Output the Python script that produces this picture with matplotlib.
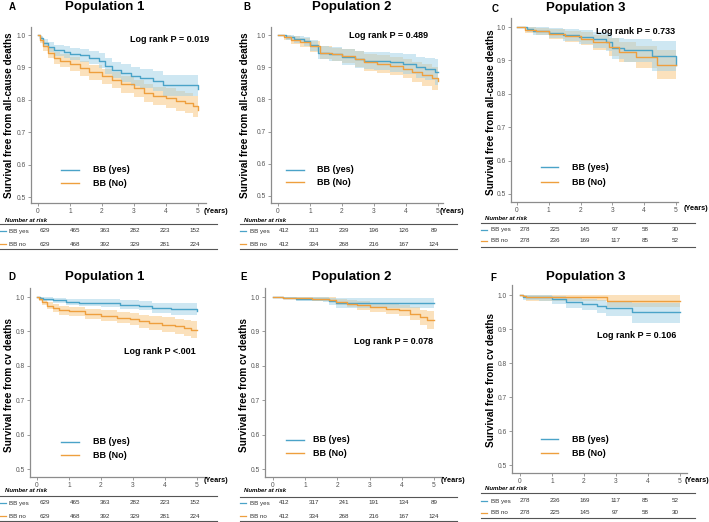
import matplotlib
matplotlib.use("Agg")
import matplotlib.pyplot as plt
from matplotlib.lines import Line2D

plt.rcParams['font.family'] = ['Liberation Sans', 'DejaVu Sans']

# ---- data: Kaplan-Meier estimates ----
# Panel A: population 1, all-cause deaths
a_yes_t = [0, 0.05, 0.15, 0.3, 0.5, 0.8, 1.0, 1.3, 1.6, 1.9, 2.1, 2.3, 2.6, 2.9, 3.2, 3.6, 3.9, 4.95, 5.0]
a_yes_s = [1.0, 0.99, 0.975, 0.962, 0.953, 0.947, 0.942, 0.937, 0.93, 0.92, 0.905, 0.893, 0.882, 0.872, 0.866, 0.858, 0.845, 0.845, 0.832]
a_yes_hi = [1.0, 0.998, 0.988, 0.978, 0.970, 0.965, 0.961, 0.957, 0.951, 0.943, 0.929, 0.918, 0.909, 0.900, 0.895, 0.888, 0.877, 0.877, 0.868]
a_yes_lo = [1.0, 0.982, 0.962, 0.946, 0.936, 0.929, 0.923, 0.917, 0.909, 0.897, 0.881, 0.868, 0.855, 0.844, 0.837, 0.828, 0.813, 0.813, 0.796]
a_no_t = [0, 0.05, 0.15, 0.3, 0.5, 0.7, 1.0, 1.3, 1.6, 2.0, 2.3, 2.6, 3.0, 3.3, 3.6, 4.0, 4.3, 4.6, 4.85, 5.0]
a_no_s = [1.0, 0.985, 0.965, 0.945, 0.93, 0.92, 0.91, 0.897, 0.885, 0.872, 0.86, 0.848, 0.835, 0.822, 0.812, 0.805, 0.797, 0.79, 0.78, 0.768]
a_no_hi = [1.0, 0.994, 0.979, 0.962, 0.949, 0.940, 0.931, 0.919, 0.908, 0.896, 0.885, 0.874, 0.862, 0.850, 0.841, 0.835, 0.828, 0.822, 0.813, 0.803]
a_no_lo = [1.0, 0.976, 0.951, 0.928, 0.911, 0.900, 0.889, 0.875, 0.862, 0.848, 0.835, 0.822, 0.808, 0.794, 0.783, 0.775, 0.766, 0.758, 0.747, 0.733]

# Panel B: population 2, all-cause deaths
b_yes_t = [0, 0.25, 0.5, 0.8, 1.0, 1.25, 1.6, 2.0, 2.4, 2.7, 3.0, 3.5, 3.9, 4.3, 4.6, 4.9, 5.0]
b_yes_s = [1.0, 0.993, 0.987, 0.98, 0.968, 0.945, 0.94, 0.932, 0.925, 0.92, 0.918, 0.915, 0.91, 0.9, 0.895, 0.885, 0.885]
b_yes_hi = [1.0, 1.0, 0.998, 0.993, 0.985, 0.966, 0.962, 0.956, 0.951, 0.947, 0.946, 0.944, 0.941, 0.933, 0.93, 0.925, 0.925]
b_yes_lo = [1.0, 0.985, 0.976, 0.967, 0.951, 0.924, 0.918, 0.908, 0.899, 0.893, 0.89, 0.886, 0.879, 0.867, 0.86, 0.845, 0.845]
b_no_t = [0, 0.2, 0.4, 0.7, 1.0, 1.3, 1.7, 2.0, 2.4, 2.7, 3.1, 3.5, 3.9, 4.2, 4.5, 4.8, 5.0]
b_no_s = [1.0, 0.993, 0.985, 0.978, 0.965, 0.945, 0.94, 0.935, 0.925, 0.915, 0.91, 0.905, 0.895, 0.885, 0.875, 0.865, 0.858]
b_no_hi = [1.0, 1.0, 0.997, 0.992, 0.982, 0.965, 0.961, 0.957, 0.949, 0.941, 0.937, 0.933, 0.925, 0.917, 0.909, 0.901, 0.897]
b_no_lo = [1.0, 0.985, 0.973, 0.964, 0.948, 0.925, 0.919, 0.913, 0.901, 0.889, 0.883, 0.877, 0.865, 0.853, 0.841, 0.829, 0.815]

# Panel C: population 3, all-cause deaths
c_yes_t = [0, 0.3, 0.5, 1.0, 1.45, 1.95, 2.4, 2.8, 3.0, 3.35, 4.23, 4.97, 5.0]
c_yes_s = [1.0, 0.993, 0.988, 0.982, 0.976, 0.97, 0.963, 0.955, 0.937, 0.93, 0.912, 0.912, 0.885]
c_yes_hi = [1.0, 1.0, 0.999, 0.996, 0.993, 0.99, 0.986, 0.981, 0.968, 0.964, 0.958, 0.958, 0.945]
c_yes_lo = [1.0, 0.984, 0.976, 0.967, 0.957, 0.948, 0.938, 0.927, 0.904, 0.894, 0.868, 0.868, 0.815]
c_no_t = [0, 0.25, 0.6, 1.0, 1.5, 2.0, 2.4, 2.9, 3.2, 3.75, 4.4, 5.0]
c_no_s = [1.0, 0.992, 0.987, 0.98, 0.972, 0.965, 0.955, 0.94, 0.925, 0.91, 0.886, 0.886]
c_no_hi = [1.0, 1.0, 0.998, 0.994, 0.989, 0.984, 0.977, 0.966, 0.954, 0.943, 0.93, 0.93]
c_no_lo = [1.0, 0.983, 0.975, 0.965, 0.954, 0.945, 0.932, 0.913, 0.895, 0.876, 0.845, 0.838]

# Panel D: population 1, cv deaths
d_yes_t = [0, 0.1, 0.2, 0.5, 0.9, 1.3, 2.0, 2.6, 3.2, 3.6, 4.2, 4.95, 5.0]
d_yes_s = [1.0, 0.997, 0.993, 0.991, 0.986, 0.984, 0.982, 0.978, 0.975, 0.969, 0.966, 0.966, 0.958]
d_yes_hi = [1.0, 1.0, 0.999, 0.998, 0.995, 0.994, 0.993, 0.99, 0.988, 0.984, 0.983, 0.983, 0.978]
d_yes_lo = [1.0, 0.993, 0.987, 0.983, 0.976, 0.973, 0.97, 0.965, 0.961, 0.953, 0.949, 0.949, 0.938]
d_no_t = [0, 0.05, 0.15, 0.3, 0.5, 0.7, 1.0, 1.5, 2.0, 2.5, 2.9, 3.2, 3.5, 3.9, 4.3, 4.6, 4.8, 5.0]
d_no_s = [1.0, 0.993, 0.985, 0.975, 0.967, 0.962, 0.958, 0.951, 0.945, 0.94, 0.936, 0.93, 0.925, 0.92, 0.915, 0.91, 0.905, 0.905]
d_no_hi = [1.0, 0.999, 0.994, 0.986, 0.979, 0.975, 0.972, 0.966, 0.961, 0.957, 0.954, 0.949, 0.945, 0.941, 0.937, 0.933, 0.929, 0.929]
d_no_lo = [1.0, 0.987, 0.976, 0.964, 0.955, 0.949, 0.944, 0.936, 0.929, 0.923, 0.918, 0.911, 0.905, 0.899, 0.893, 0.887, 0.881, 0.879]

# Panel E: population 2, cv deaths
e_yes_t = [0, 0.3, 0.7, 1.55, 1.75, 1.97, 5.0]
e_yes_s = [1.0, 0.998, 0.995, 0.993, 0.988, 0.982, 0.982]
e_yes_hi = [1.0, 1.0, 1.0, 1.0, 0.998, 0.997, 0.998]
e_yes_lo = [1.0, 0.994, 0.989, 0.985, 0.978, 0.969, 0.966]
e_no_t = [0, 0.3, 1.2, 1.75, 1.97, 2.3, 2.6, 3.0, 3.5, 3.9, 4.25, 4.55, 4.77, 5.0]
e_no_s = [1.0, 0.998, 0.995, 0.992, 0.986, 0.981, 0.976, 0.971, 0.966, 0.961, 0.952, 0.942, 0.932, 0.932]
e_no_hi = [1.0, 1.0, 1.0, 0.999, 0.995, 0.991, 0.988, 0.984, 0.98, 0.977, 0.97, 0.963, 0.958, 0.963]
e_no_lo = [1.0, 0.994, 0.989, 0.985, 0.977, 0.97, 0.963, 0.957, 0.951, 0.944, 0.933, 0.92, 0.907, 0.898]

# Panel F: population 3, cv deaths
f_yes_t = [0, 0.1, 0.6, 1.0, 1.45, 1.95, 2.4, 2.7, 3.5, 5.0]
f_yes_s = [1.0, 0.995, 0.993, 0.987, 0.98, 0.974, 0.969, 0.961, 0.951, 0.951]
f_yes_hi = [1.0, 1.0, 1.0, 0.997, 0.993, 0.989, 0.986, 0.98, 0.975, 0.975]
f_yes_lo = [1.0, 0.986, 0.982, 0.974, 0.963, 0.955, 0.948, 0.938, 0.918, 0.918]
f_no_t = [0, 0.1, 0.2, 2.72, 5.0]
f_no_s = [1.0, 0.997, 0.993, 0.983, 0.983]
f_no_hi = [1.0, 1.0, 1.0, 1.0, 1.0]
f_no_lo = [1.0, 0.99, 0.983, 0.966, 0.966]

# number at risk (years 0..5)
risk_a_yes = [629, 465, 363, 282, 223, 152]
risk_a_no = [629, 468, 392, 329, 281, 224]
risk_b_yes = [412, 313, 239, 196, 126, 89]
risk_b_no = [412, 334, 268, 216, 167, 124]
risk_c_yes = [278, 225, 145, 97, 58, 30]
risk_c_no = [278, 236, 169, 117, 85, 52]
risk_d_yes = [629, 465, 363, 282, 223, 152]
risk_d_no = [629, 468, 392, 329, 281, 224]
risk_e_yes = [412, 317, 241, 191, 134, 89]
risk_e_no = [412, 334, 268, 216, 167, 124]
risk_f_yes = [278, 236, 169, 117, 85, 52]
risk_f_no = [278, 225, 145, 97, 58, 30]

years = [0, 1, 2, 3, 4, 5]
y_ticks = [0.5, 0.6, 0.7, 0.8, 0.9, 1.0]
p_labels = ["Log rank P = 0.019", "Log rank P = 0.489", "Log rank P = 0.733",
            "Log rank P <.001", "Log rank P = 0.078", "Log rank P = 0.106"]
titles = ["Population 1", "Population 2", "Population 3"] * 2
letters = ["A", "B", "C", "D", "E", "F"]
ylab_all = "Survival free from all-cause deaths"
ylab_cv = "Survival free from cv deaths"

BLUE = "#4aa3c8"
BLUE_FILL = "#9fd0e6"
ORANGE = "#ee9f3e"
ORANGE_FILL = "#f8c47a"
GRAY = "#8c8c8c"

W, H = 709, 522
fig = plt.figure(figsize=(W / 100, H / 100), dpi=100)


def fx(x):
    return x / W


def fy(y):
    return 1 - y / H


def ftext(x, y, s, **kw):
    fig.text(fx(x), fy(y), s, **kw)


def fline(x0, x1, y, color, lw=0.8):
    fig.add_artist(Line2D([fx(x0), fx(x1)], [fy(y), fy(y)], color=color, lw=lw))


# layout of each panel in figure pixels (top-left origin)
panels = [
    dict(box=(31, 27, 206, 203), ticks=(38, 198, 35, 197),
         curves=[(a_yes_t, a_yes_s, a_yes_lo, a_yes_hi), (a_no_t, a_no_s, a_no_lo, a_no_hi)],
         letter=(12, 7), title=(105, 7), ylab=(9, 115), p=(170, 40),
         leg=(61, 79, 93, 170, 183), yrs=(204, 211),
         tab=dict(nar=(5, 220), rows=(231, 244), lines=(0, 217, 224, 249), lab=(0, 6, 9),
                  xs=(45, 30), risk=(risk_a_yes, risk_a_no))),
    dict(box=(271, 27, 443, 203), ticks=(278, 438, 35, 196),
         curves=[(b_yes_t, b_yes_s, b_yes_lo, b_yes_hi), (b_no_t, b_no_s, b_no_lo, b_no_hi)],
         letter=(247, 7), title=(352, 7), ylab=(245, 115), p=(389, 35),
         leg=(286, 304, 317, 170, 182), yrs=(440, 211),
         tab=dict(nar=(244, 220), rows=(231, 244), lines=(240, 457, 224, 249), lab=(240, 246, 250),
                  xs=(284, 30), risk=(risk_b_yes, risk_b_no))),
    dict(box=(511, 18, 678, 202), ticks=(517, 676, 27, 194),
         curves=[(c_yes_t, c_yes_s, c_yes_lo, c_yes_hi), (c_no_t, c_no_s, c_no_lo, c_no_hi)],
         letter=(495, 9), title=(586, 8), ylab=(491, 112), p=(636, 32),
         leg=(541, 558, 572, 167, 182), yrs=(684, 209),
         tab=dict(nar=(485, 218), rows=(230, 241), lines=(481, 695, 223, 247), lab=(481, 487, 491),
                  xs=(525, 30), risk=(risk_c_yes, risk_c_no))),
    dict(box=(30, 288, 207, 477), ticks=(37, 197, 297, 469),
         curves=[(d_yes_t, d_yes_s, d_yes_lo, d_yes_hi), (d_no_t, d_no_s, d_no_lo, d_no_hi)],
         letter=(12, 277), title=(105, 277), ylab=(9, 385), p=(160, 352),
         leg=(61, 79, 93, 442, 455), yrs=(204, 481),
         tab=dict(nar=(5, 490), rows=(503, 516), lines=(0, 217, 496, 521), lab=(0, 6, 9),
                  xs=(45, 30), risk=(risk_d_yes, risk_d_no))),
    dict(box=(265, 288, 442, 477), ticks=(273, 434, 297, 469),
         curves=[(e_yes_t, e_yes_s, e_yes_lo, e_yes_hi), (e_no_t, e_no_s, e_no_lo, e_no_hi)],
         letter=(244, 277), title=(352, 277), ylab=(244, 385), p=(394, 342),
         leg=(286, 304, 313, 440, 453), yrs=(441, 481),
         tab=dict(nar=(244, 491), rows=(503, 516), lines=(240, 457, 497, 521), lab=(240, 246, 250),
                  xs=(284, 30), risk=(risk_e_yes, risk_e_no))),
    dict(box=(512, 285, 687, 473), ticks=(520, 680, 295, 465),
         curves=[(f_yes_t, f_yes_s, f_yes_lo, f_yes_hi), (f_no_t, f_no_s, f_no_lo, f_no_hi)],
         letter=(493, 278), title=(586, 277), ylab=(491, 380), p=(637, 336),
         leg=(541, 558, 572, 439, 453), yrs=(685, 480),
         tab=dict(nar=(485, 489), rows=(501, 513), lines=(481, 695, 493, 518), lab=(481, 487, 491),
                  xs=(525, 30), risk=(risk_f_yes, risk_f_no))),
]

for i, pdef in enumerate(panels):
    left, top, right, bottom = pdef['box']
    x0, x5, y10, y05 = pdef['ticks']
    ax = fig.add_axes([fx(left), fy(bottom), (right - left) / W, (bottom - top) / H])
    xs = 5 / (x5 - x0)
    ys = 0.5 / (y05 - y10)
    ax.set_xlim((left - x0) * xs, (right - x0) * xs)
    ax.set_ylim(0.5 - (bottom - y05) * ys, 1.0 + (y10 - top) * ys)
    ax.patch.set_alpha(0)

    (yt, ysv, ylo, yhi), (nt, nsv, nlo, nhi) = pdef['curves']
    ax.fill_between(nt, nlo, nhi, step='post', color=ORANGE_FILL, alpha=0.5, lw=0)
    ax.fill_between(yt, ylo, yhi, step='post', color=BLUE_FILL, alpha=0.5, lw=0)
    ax.step(yt, ysv, where='post', color=BLUE, lw=1.0)
    ax.step(nt, nsv, where='post', color=ORANGE, lw=1.0)

    for sp in ['top', 'right']:
        ax.spines[sp].set_visible(False)
    for sp in ['left', 'bottom']:
        ax.spines[sp].set_color(GRAY)
        ax.spines[sp].set_linewidth(0.9)
    ax.set_xticks(years)
    ax.set_yticks(y_ticks)
    ax.set_yticklabels([f"{v:.1f}" for v in y_ticks])
    ax.tick_params(length=2, width=0.6, color=GRAY, labelsize=4.8, labelcolor="#555555", pad=1.5)

    # labels
    ftext(*pdef['letter'], letters[i], fontsize=7, fontweight='bold', ha='center', va='center')
    ftext(*pdef['title'], titles[i], fontsize=9.5, fontweight='bold', ha='center', va='center')
    ftext(*pdef['ylab'], ylab_all if i < 3 else ylab_cv, fontsize=7.2, fontweight='bold',
          rotation=90, ha='center', va='center')
    ftext(*pdef['p'], p_labels[i], fontsize=6.5, fontweight='bold', ha='center', va='center')
    ftext(*pdef['yrs'], "(Years)", fontsize=5.3, fontweight='bold', ha='left', va='center')

    # legend
    lx0, lx1, tx, ly1, ly2 = pdef['leg']
    fline(lx0, lx1, ly1, BLUE, lw=1.0)
    fline(lx0, lx1, ly2, ORANGE, lw=1.0)
    ftext(tx, ly1, "BB (yes)", fontsize=6.5, fontweight='bold', ha='left', va='center')
    ftext(tx, ly2, "BB (No)", fontsize=6.5, fontweight='bold', ha='left', va='center')

    # risk table
    tab = pdef['tab']
    ftext(*tab['nar'], "Number at risk", fontsize=4.3, fontweight='bold', fontstyle='italic',
          ha='left', va='center')
    tl0, tl1, ty1, ty2 = tab['lines']
    fline(tl0, tl1, ty1, "#555555", lw=0.8)
    fline(tl0, tl1, ty2, "#555555", lw=0.8)
    c0, c1, ct = tab['lab']
    sx, dx = tab['xs']
    for ry, col, name, vals in zip(tab['rows'], [BLUE, ORANGE], ["BB yes", "BB no"], tab['risk']):
        fline(c0, c1, ry, col, lw=0.9)
        ftext(ct, ry, name, fontsize=4.5, color="#333333", ha='left', va='center')
        for k, v in enumerate(vals):
            ftext(sx + k * dx, ry, str(v), fontsize=4.5, color="#333333", ha='center', va='center')

fig.savefig("out.png", dpi=100)
